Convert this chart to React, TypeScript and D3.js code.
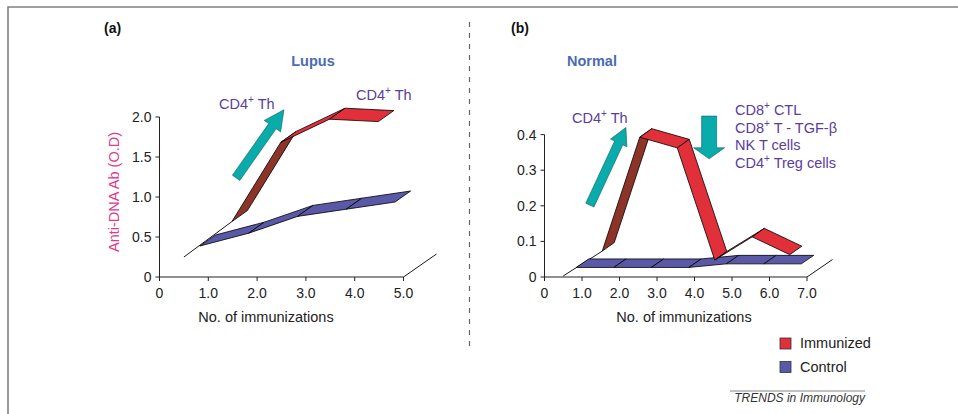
import React from "react";
import * as d3 from "d3";

// panel (a) – Lupus
const immunA = [1, 2, 3, 4, 5];
const lupusControl = [0.25, 0.41, 0.62, 0.71, 0.8];
const lupusImmunized = [0.28, 1.27, 1.56, 1.53];
const lupusTicksY = [0, 0.5, 1.0, 1.5, 2.0];
const lupusTicksX = [0, 1, 2, 3, 4, 5];

// panel (b) – Normal
const immunB = [1, 2, 3, 4, 5, 6, 7];
const normalControl = [0.003, 0.003, 0.003, 0.003, 0.013, 0.013, 0.013];
const normalImmunized = [0.025, 0.345, 0.315, 0.0, 0.065, 0.015];
const normalTicksY = [0, 0.1, 0.2, 0.3, 0.4];
const normalTicksX = [0, 1, 2, 3, 4, 5, 6, 7];

const suppressors = ["CD8+ CTL", "CD8+ T - TGF-β", "NK T cells", "CD4+ Treg cells"];
const legendItems = ["Immunized", "Control"];

const RED = "#e2303a";
const RED_DARK = "#8c3427";
const BLUE = "#5a59a7";
const BLUE_DARK = "#34336f";
const TEAL = "#0aabab";
const PURPLE = "#5a3d9e";
const TITLE = "#4a6cb3";
const PINK = "#e2378c";
const INK = "#222";
const FONT = "'Liberation Sans', Arial, sans-serif";

type Pt = [number, number];

// renders "CD4+ Th" with the plus as a superscript
const Sup = ({ s }: { s: string }) => {
  const i = s.indexOf("+");
  if (i < 0) return <>{s}</>;
  return (
    <>
      {s.slice(0, i)}
      <tspan fontSize="10" dy="-6">+</tspan>
      <tspan dy="6">{s.slice(i + 1)}</tspan>
    </>
  );
};

const Ribbon = ({ pts, w, fill, dark }: { pts: Pt[]; w: Pt; fill: string; dark: string }) => {
  const segs = d3.pairs(pts).map(([a, b]) => {
    const quad: Pt[] = [a, b, [b[0] + w[0], b[1] + w[1]], [a[0] + w[0], a[1] + w[1]]];
    const cross = (b[0] - a[0]) * w[1] - (b[1] - a[1]) * w[0];
    return { quad, col: cross > 0 ? dark : fill };
  });
  return (
    <g>
      {segs.map((s, i) => (
        <polygon
          key={i}
          points={s.quad.map((p) => p.join(",")).join(" ")}
          fill={s.col}
          stroke="#000"
          strokeWidth={0.8}
          strokeLinejoin="round"
        />
      ))}
    </g>
  );
};

const Arrow = ({ from, to, sw, hw, hl }: { from: Pt; to: Pt; sw: number; hw: number; hl: number }) => {
  const dx = to[0] - from[0];
  const dy = to[1] - from[1];
  const len = Math.hypot(dx, dy);
  const ux = dx / len, uy = dy / len;
  const nx = -uy, ny = ux;
  const bx = to[0] - ux * hl, by = to[1] - uy * hl;
  const p: Pt[] = [
    [from[0] + nx * sw, from[1] + ny * sw],
    [bx + nx * sw, by + ny * sw],
    [bx + nx * hw, by + ny * hw],
    to,
    [bx - nx * hw, by - ny * hw],
    [bx - nx * sw, by - ny * sw],
    [from[0] - nx * sw, from[1] - ny * sw],
  ];
  return <polygon points={p.map((q) => q.join(",")).join(" ")} fill={TEAL} stroke="#0b5c5c" strokeWidth={0.6} />;
};

const fmt = (d: number) => (d === 0 ? "0" : d3.format(".1f")(d));

const Axes = ({ x, y, tx, ty, labelX }: { x: d3.ScaleLinear<number, number>; y: d3.ScaleLinear<number, number>; tx: number[]; ty: number[]; labelX: number }) => {
  const x0 = x.range()[0], x1 = x.range()[1];
  const y0 = y.range()[0], y1 = y.range()[1];
  return (
    <g fontFamily={FONT} fontSize={14} fill={INK}>
      <line x1={x0} x2={x0} y1={y0} y2={y1} stroke={INK} strokeWidth={1} />
      <line x1={x0} x2={x1} y1={y0} y2={y0} stroke={INK} strokeWidth={1} />
      {ty.map((t) => (
        <g key={"y" + t}>
          <line x1={x0 - 4} x2={x0} y1={y(t)} y2={y(t)} stroke={INK} />
          <text x={x0 - 8} y={y(t)} dy="0.36em" textAnchor="end">{fmt(t)}</text>
        </g>
      ))}
      {tx.map((t) => (
        <g key={"x" + t}>
          <line x1={x(t)} x2={x(t)} y1={y0} y2={y0 + 4} stroke={INK} />
          <text x={x(t)} y={y0 + 21} textAnchor="middle">{fmt(t)}</text>
        </g>
      ))}
      <text x={labelX} y={y0 + 45} textAnchor="middle" fontSize={14.5}>No. of immunizations</text>
    </g>
  );
};

const App = () => {
  // panel (a)
  const xA = d3.scaleLinear().domain([0, 5]).range([159.5, 403.5]);
  const yA = d3.scaleLinear().domain([0, 2]).range([277, 117]);
  const bandA = d3.scaleBand<number>().domain(immunA).range(xA.range() as [number, number]);
  const cA = (k: number) => (bandA(k) as number) + bandA.bandwidth() / 2;
  const offCtlA: Pt = [16, -11];
  const offImmA: Pt = [48, -33];
  const ctlA: Pt[] = lupusControl.map((v, i) => [cA(immunA[i]) + offCtlA[0], yA(v) + offCtlA[1]]);
  const immA: Pt[] = lupusImmunized.map((v, i) => [cA(immunA[i]) + offImmA[0], yA(v) + offImmA[1]]);

  // panel (b)
  const xB = d3.scaleLinear().domain([0, 7]).range([544.5, 807]);
  const yB = d3.scaleLinear().domain([0, 0.4]).range([277, 134.6]);
  const bandB = d3.scaleBand<number>().domain(immunB).range(xB.range() as [number, number]);
  const cB = (k: number) => (bandB(k) as number) + bandB.bandwidth() / 2;
  const offCtlB: Pt = [13, -8.5];
  const offImmB: Pt = [39, -17];
  const ctlB: Pt[] = normalControl.map((v, i) => [cB(immunB[i]) + offCtlB[0], yB(v) + offCtlB[1]]);
  const immB: Pt[] = normalImmunized.map((v, i) => [cB(immunB[i]) + offImmB[0], yB(v) + offImmB[1]]);

  return (
    <svg width={958} height={414} style={{ position: "absolute", left: 0, top: 0, background: "#fff" }}>
      <path d="M8,414 V7 H958" fill="none" stroke="#808080" strokeWidth={1.6} />
      <line x1={469.5} x2={469.5} y1={22} y2={350} stroke="#666" strokeWidth={1.2} strokeDasharray="5,6" />

      {/* panel (a) */}
      <Axes x={xA} y={yA} tx={lupusTicksX} ty={lupusTicksY} labelX={266} />
      <line x1={xA(5)} y1={yA(0)} x2={xA(5) + 33} y2={yA(0) - 23} stroke="#000" strokeWidth={0.9} />
      <line x1={cA(1)} y1={yA(lupusControl[0])} x2={immA[0][0]} y2={immA[0][1]} stroke="#000" strokeWidth={0.9} />
      <Ribbon pts={ctlA} w={[15.5, -11]} fill={BLUE} dark={BLUE_DARK} />
      <Ribbon pts={immA} w={[15.5, -11]} fill={RED} dark={RED_DARK} />
      <Arrow from={[xA(1.57), yA(1.24)]} to={[xA(2.55), yA(2.09)]} sw={4.5} hw={10} hl={20} />

      <g fontFamily={FONT}>
        <text x={104} y={33} fontSize={14} fontWeight="bold" fill="#111">(a)</text>
        <text x={313} y={66} fontSize={14.5} fontWeight="bold" fill={TITLE} textAnchor="middle">Lupus</text>
        <text x={219} y={109} fontSize={14.5} fill={PURPLE}><Sup s="CD4+ Th" /></text>
        <text x={356} y={100} fontSize={14.5} fill={PURPLE}><Sup s="CD4+ Th" /></text>
        <text transform="translate(118.5,192) rotate(-90)" fontSize={14.5} fill={PINK} textAnchor="middle">Anti-DNA Ab (O.D)</text>
      </g>

      {/* panel (b) */}
      <Axes x={xB} y={yB} tx={normalTicksX} ty={normalTicksY} labelX={684} />
      <line x1={xB(7)} y1={yB(0)} x2={xB(7) + 25.5} y2={yB(0) - 17.5} stroke="#000" strokeWidth={0.9} />
      <line x1={cB(1)} y1={yB(normalControl[0])} x2={immB[0][0]} y2={immB[0][1]} stroke="#000" strokeWidth={0.9} />
      <Ribbon pts={ctlB} w={[12.5, -8.5]} fill={BLUE} dark={BLUE_DARK} />
      <Ribbon pts={immB} w={[12, -8.5]} fill={RED} dark={RED_DARK} />
      <Arrow from={[xB(1.21), yB(0.202)]} to={[xB(2.17), yB(0.42)]} sw={4.5} hw={9} hl={17} />
      <Arrow from={[xB(4.39), yB(0.452)]} to={[xB(4.39), yB(0.332)]} sw={7.5} hw={15.5} hl={11} />

      <g fontFamily={FONT}>
        <text x={511} y={33} fontSize={14} fontWeight="bold" fill="#111">(b)</text>
        <text x={567} y={66} fontSize={14.5} fontWeight="bold" fill={TITLE}>Normal</text>
        <text x={572} y={123} fontSize={14.5} fill={PURPLE}><Sup s="CD4+ Th" /></text>
        {suppressors.map((s, i) => (
          <text key={s} x={735} y={115 + i * 17.5} fontSize={14.5} fill={PURPLE}><Sup s={s} /></text>
        ))}
      </g>

      {/* legend */}
      <g fontFamily={FONT} fontSize={14.5} fill={INK}>
        {legendItems.map((s, i) => (
          <g key={s} transform={`translate(780,${338 + i * 23.5})`}>
            <rect width={11} height={11} fill={i === 0 ? RED : BLUE} stroke="#333" strokeWidth={0.8} />
            <text x={20} y={10}>{s}</text>
          </g>
        ))}
        <line x1={730} x2={865} y1={391} y2={391} stroke="#666" strokeWidth={0.8} />
        <text x={865} y={402} fontSize={12} fontStyle="italic" textAnchor="end" fill="#333">TRENDS in Immunology</text>
      </g>
    </svg>
  );
};

export default App;
